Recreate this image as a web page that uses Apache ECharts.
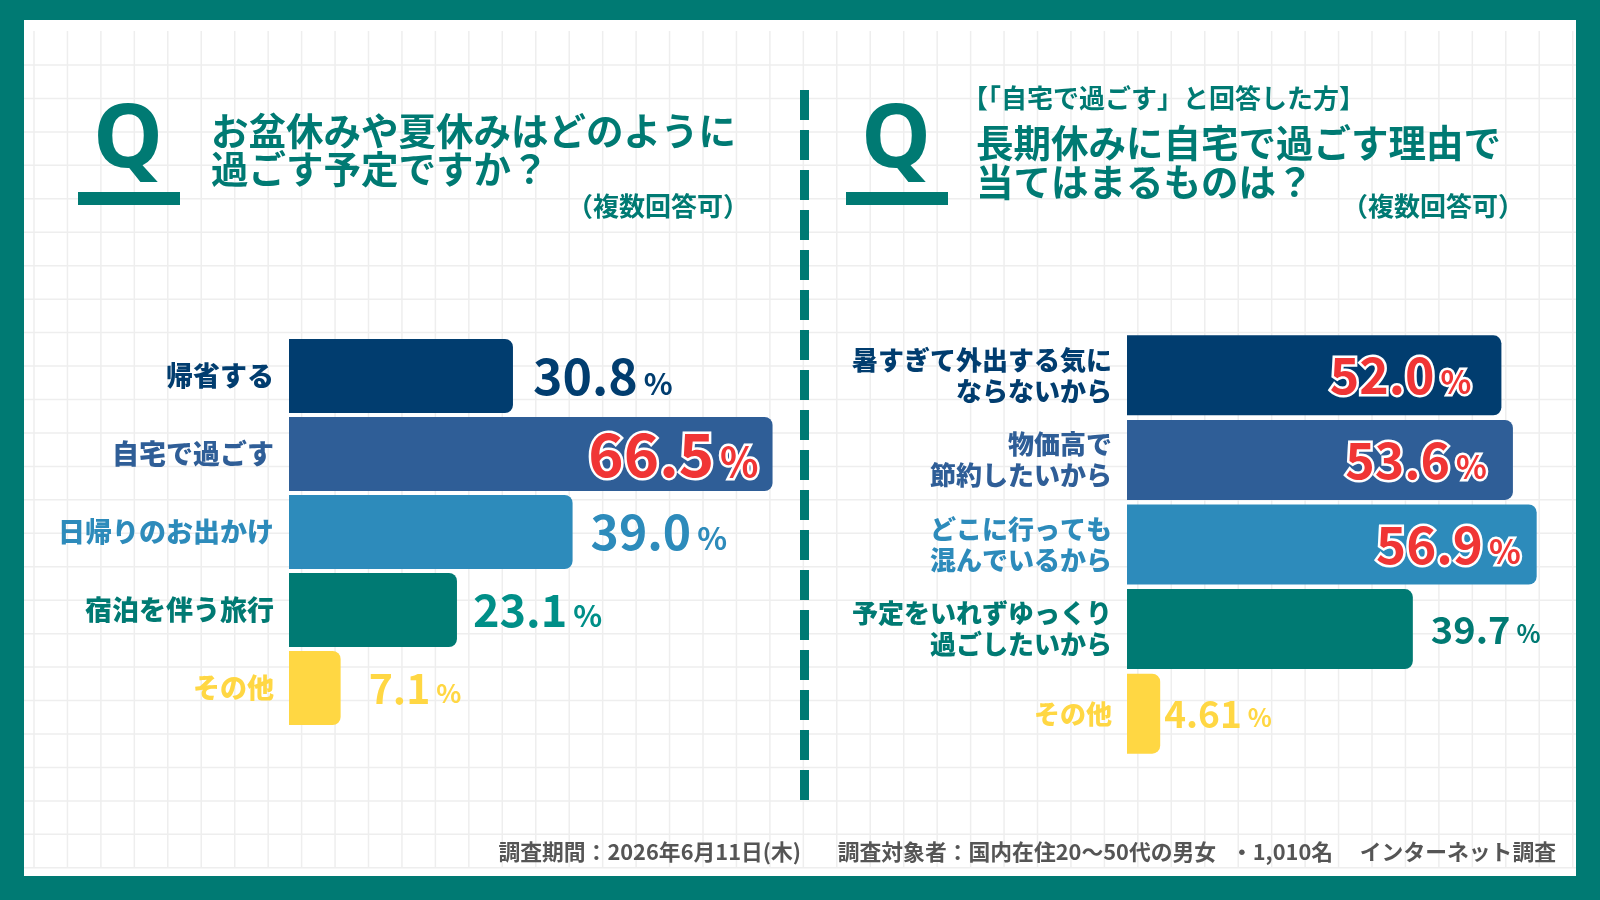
<!DOCTYPE html>
<html>
<head>
<meta charset="utf-8">
<title>お盆休み・夏休みの過ごし方</title>
<script src="https://cdn.jsdelivr.net/npm/echarts@6/dist/echarts.min.js"></script>
<style>
    html, body { margin: 0; padding: 0; background: #007a73; }
    #chart { width: 1600px; height: 900px; }
</style>
</head>
<body>
<div id="chart"></div>
<script>
// Q1: お盆休みや夏休みはどのように過ごす予定ですか？
var planCategories = ['帰省する', '自宅で過ごす', '日帰りのお出かけ', '宿泊を伴う旅行', 'その他'];
var planValues = [30.8, 66.5, 39.0, 23.1, 7.1];
var planLabels = ['30.8', '66.5', '39.0', '23.1', '7.1'];

// Q2: 長期休みに自宅で過ごす理由（「自宅で過ごす」と回答した方）
var reasonCategories = [
    '暑すぎて外出する気に\nならないから',
    '物価高で\n節約したいから',
    'どこに行っても\n混んでいるから',
    '予定をいれずゆっくり\n過ごしたいから',
    'その他'
];
var reasonValues = [52.0, 53.6, 56.9, 39.7, 4.61];
var reasonLabels = ['52.0', '53.6', '56.9', '39.7', '4.61'];

var footerText = '調査期間：2026年6月11日(木)　   調査対象者：国内在住20〜50代の男女   ・1,010名　 インターネット調査';

// styles
var TEAL = '#007a73';
var JP = '"Noto Sans CJK JP", "Noto Sans", sans-serif';
var barColors = ['#013d6f', '#2f5e97', '#2d8bbb', '#007a73', '#ffd743'];
var planLabelColors = ['#013d6f', '#2f5e97', '#2d8bbb', '#008f88', '#ffd743'];
var reasonLabelColors = ['#013d6f', '#2f5e97', '#2d8bbb', '#007a73', '#ffd743'];
var planNumSize = [50, 60, 48, 45, 41];
var planPctSize = [30, 40, 31, 30, 26];
var reasonNumSize = [50, 50, 51, 38, 37];
var reasonPctSize = [32, 32, 33, 25, 25];

function buildItems(values, texts, labelColors, numSize, pctSize, gap) {
    return values.map(function (v, i) {
        var hot = v >= 50;
        var base = {
            fontFamily: JP,
            fontWeight: 'bold',
            color: hot ? '#f03535' : labelColors[i],
            textBorderColor: hot ? '#ffffff' : 'transparent',
            textBorderWidth: hot ? 5 : 0
        };
        return {
            value: v,
            itemStyle: { color: barColors[i] },
            label: {
                show: true,
                position: hot ? 'insideRight' : 'right',
                distance: gap[i],
                formatter: '{n|' + texts[i] + '}{p|%}',
                rich: {
                    n: Object.assign({ fontSize: numSize[i] }, base),
                    p: Object.assign({ fontSize: pctSize[i], verticalAlign: 'bottom', padding: [0, 0, 2, 6] }, base)
                }
            }
        };
    });
}

function categoryAxis(gridIndex, data, fontSize, lineHeight) {
    return {
        gridIndex: gridIndex,
        type: 'category',
        inverse: true,
        z: 6,
        data: data,
        axisLine: { show: false },
        axisTick: { show: false },
        splitLine: { show: false },
        axisLabel: {
            margin: 15,
            fontSize: fontSize,
            lineHeight: lineHeight,
            fontWeight: 900,
            fontFamily: JP,
            align: 'right',
            color: function (value, index) { return barColors[index]; }
        }
    };
}

// background: white sheet, graph-paper grid, divider
var graphics = [
    { type: 'rect', z: 0, shape: { x: 24, y: 20, width: 1552, height: 856 }, style: { fill: '#ffffff' } }
];
var step = 33.45;
for (var gx = 34; gx < 1576; gx += step) {
    graphics.push({ type: 'line', z: 1, shape: { x1: gx, y1: 31, x2: gx, y2: 868 }, style: { stroke: '#eeeeee', lineWidth: 1.5 } });
}
for (var gy = 65; gy < 870; gy += step) {
    graphics.push({ type: 'line', z: 1, shape: { x1: 24, y1: gy, x2: 1576, y2: gy }, style: { stroke: '#eeeeee', lineWidth: 1.5 } });
}
graphics.push({ type: 'line', z: 3, shape: { x1: 804.5, y1: 90, x2: 804.5, y2: 800 }, style: { stroke: TEAL, lineWidth: 9, lineDash: [30, 10] } });

function qMark(cx) {
    return [
        { type: 'text', z: 5, x: cx, y: 142, style: { text: 'Q', font: 'bold 88px "Noto Sans", sans-serif', fill: TEAL, textAlign: 'center', textVerticalAlign: 'middle' } },
        { type: 'rect', z: 5, shape: { x: cx - 50, y: 192, width: 102, height: 13 }, style: { fill: TEAL } }
    ];
}
function textItem(x, y, text, size, align, color) {
    return { type: 'text', z: 5, x: x, y: y, style: { text: text, font: 'bold ' + size + 'px ' + JP, fill: color || TEAL, textAlign: align || 'left', textVerticalAlign: 'middle' } };
}

graphics = graphics.concat(qMark(128), qMark(896), [
    textItem(211, 131, 'お盆休みや夏休みはどのように', 37.5),
    textItem(211, 169, '過ごす予定ですか？', 37.5),
    textItem(749, 206, '（複数回答可）', 26, 'right'),
    textItem(962, 98, '【「自宅で過ごす」と回答した方】', 26),
    textItem(976, 143, '長期休みに自宅で過ごす理由で', 37.5),
    textItem(976, 182, '当てはまるものは？', 37.5),
    textItem(1524, 206, '（複数回答可）', 26, 'right'),
    textItem(1556, 852, footerText, 21.8, 'right', '#555555')
]);

var chart = echarts.init(document.getElementById('chart'));
chart.setOption({
    animation: false,
    graphic: graphics,
    grid: [
        { left: 289, top: 337, width: 509, height: 390 },
        { left: 1127, top: 333, width: 432, height: 423 }
    ],
    xAxis: [
        { gridIndex: 0, type: 'value', min: 0, max: 70, show: false },
        { gridIndex: 1, type: 'value', min: 0, max: 60, show: false }
    ],
    yAxis: [
        categoryAxis(0, planCategories, 27, 34),
        categoryAxis(1, reasonCategories, 26, 31)
    ],
    series: [
        {
            type: 'bar',
            xAxisIndex: 0,
            yAxisIndex: 0,
            barWidth: 74,
            z: 4,
            itemStyle: { borderRadius: [0, 8, 8, 0] },
            data: buildItems(planValues, planLabels, planLabelColors, planNumSize, planPctSize, [20, 14, 18, 16, 28])
        },
        {
            type: 'bar',
            xAxisIndex: 1,
            yAxisIndex: 1,
            barWidth: 80,
            z: 4,
            itemStyle: { borderRadius: [0, 8, 8, 0] },
            data: buildItems(reasonValues, reasonLabels, reasonLabelColors, reasonNumSize, reasonPctSize, [30, 26, 16, 18, 4])
        }
    ]
});
</script>
</body>
</html>
